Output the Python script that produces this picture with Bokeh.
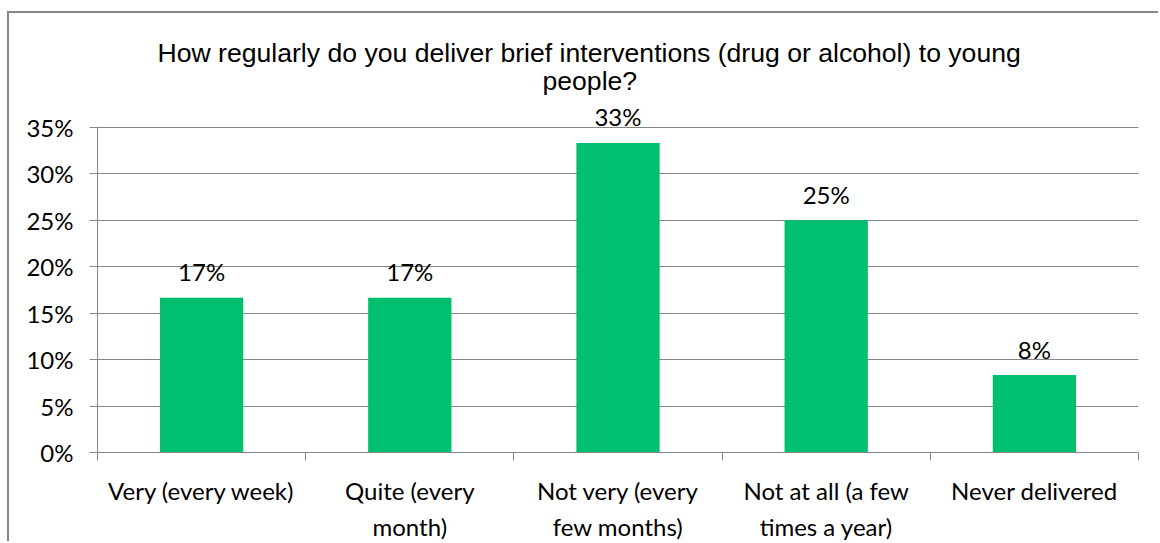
from bokeh.plotting import figure
from bokeh.models import (ColumnDataSource, FixedTicker, NumeralTickFormatter, Range1d,
                          Title, LabelSet)
from bokeh.core.properties import value
from bokeh.embed import file_html
from bokeh.resources import INLINE

categories = ["Very (every week)", "Quite (every\nmonth)", "Not very (every\nfew months)",
              "Not at all (a few\ntimes a year)", "Never delivered"]
values = [0.1667, 0.1667, 0.3333, 0.25, 0.0833]
value_labels = ["17%", "17%", "33%", "25%", "8%"]
y_ticks = [0, 0.05, 0.10, 0.15, 0.20, 0.25, 0.30, 0.35]
title_lines = ["How regularly do you deliver brief interventions (drug or alcohol) to young",
               "people?"]

GRAY = "#868686"
GREEN = "#00BF6F"
TICK_FONT = "Lato"
FS = "24px"
TITLE_FS = "26.6px"

# chart border (left/top visible) is drawn as CSS border on the figure host
OFF_X, OFF_Y = 9, 13

xs = [i + 0.5 for i in range(len(categories))]
src = ColumnDataSource(dict(x=xs, top=values, lab=value_labels))

p = figure(width=1160 - OFF_X, height=543 - OFF_Y, output_backend="svg", toolbar_location=None,
           x_range=Range1d(0, len(categories)), y_range=Range1d(0, 0.38),
           min_border_left=97 - OFF_X, min_border_right=22, min_border_top=86,
           min_border_bottom=88, title=None)
p.styles = {"margin-left": "7px", "margin-top": "11px",
            "border-left": "2px solid #868686", "border-top": "2px solid #868686"}
p.outline_line_color = None
p.background_fill_color = "white"
p.border_fill_color = "white"

p.vbar(x="x", top="top", width=0.4, source=src, fill_color=GREEN, line_color=None)
labels = LabelSet(x="x", y="top", text="lab", source=src, text_align="center",
                  text_baseline="middle", y_offset=26, text_font=value(TICK_FONT),
                  text_font_size=value(FS), text_color="black")
p.add_layout(labels)

# y axis
p.yaxis.ticker = FixedTicker(ticks=y_ticks)
p.yaxis.bounds = (0, 0.35)
p.yaxis.formatter = NumeralTickFormatter(format="0%")
p.yaxis.axis_line_color = GRAY
p.yaxis.major_tick_line_color = GRAY
p.yaxis.major_tick_out = 8
p.yaxis.major_tick_in = 0
p.yaxis.minor_tick_line_color = None
p.yaxis.major_label_text_font = TICK_FONT
p.yaxis.major_label_text_font_size = FS
p.yaxis.major_label_text_color = "black"
p.yaxis.major_label_standoff = 16

# x axis
p.xaxis.ticker = FixedTicker(ticks=xs, minor_ticks=list(range(len(categories) + 1)))
p.xaxis.major_label_overrides = {x: c for x, c in zip(xs, categories)}
p.xaxis.axis_line_color = GRAY
p.xaxis.major_tick_line_color = None
p.xaxis.major_tick_out = 0
p.xaxis.major_tick_in = 0
p.xaxis.minor_tick_line_color = GRAY
p.xaxis.minor_tick_out = 8
p.xaxis.minor_tick_in = 0
p.xaxis.major_label_text_font = TICK_FONT
p.xaxis.major_label_text_font_size = FS
p.xaxis.major_label_text_color = "black"
p.xaxis.major_label_standoff = 15
p.xaxis.major_label_text_line_height = 1.25

p.xgrid.grid_line_color = None
p.ygrid.ticker = FixedTicker(ticks=y_ticks)
p.ygrid.grid_line_color = GRAY
p.ygrid.grid_line_width = 1

t2 = Title(text=title_lines[1], align="left", text_font="Liberation Sans", text_font_size=TITLE_FS,
           text_font_style="normal", text_color="black", standoff=8, offset=445)
t1 = Title(text=title_lines[0], align="left", text_font="Liberation Sans", text_font_size=TITLE_FS,
           text_font_style="normal", text_color="black", standoff=-17, offset=60)
p.add_layout(t2, "above")
p.add_layout(t1, "above")

open("out.html", "w").write(file_html(p, INLINE))
